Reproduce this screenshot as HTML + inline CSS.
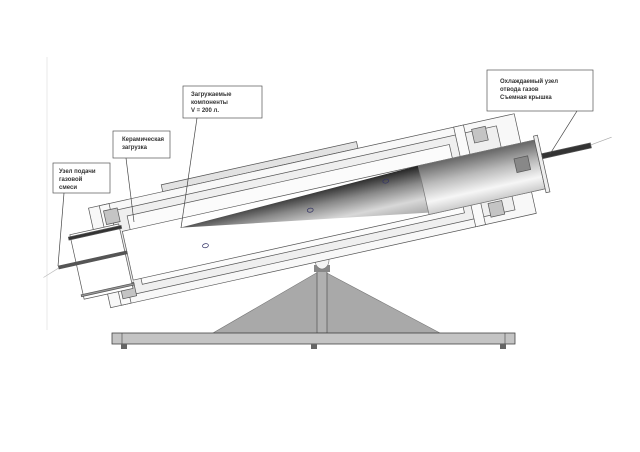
<!DOCTYPE html>
<html><head><meta charset="utf-8"><style>
html,body{margin:0;padding:0;background:#fff;}
svg{display:block}
text{font-family:"Liberation Sans",sans-serif;font-size:6px;font-weight:bold;fill:#333}
</style></head><body>
<svg width="640" height="452" viewBox="0 0 640 452" xmlns="http://www.w3.org/2000/svg">
<defs>
<linearGradient id="cone" x1="0" y1="0" x2="0" y2="1">
<stop offset="0" stop-color="#222"/><stop offset="0.35" stop-color="#888"/><stop offset="0.7" stop-color="#d8d8d8"/><stop offset="1" stop-color="#aaa"/>
</linearGradient>
<linearGradient id="cyl" x1="0" y1="0" x2="0" y2="1">
<stop offset="0" stop-color="#666"/><stop offset="0.4" stop-color="#bbb"/><stop offset="0.75" stop-color="#f6f6f6"/><stop offset="1" stop-color="#ccc"/>
</linearGradient>
</defs>
<line x1="47" y1="57" x2="47" y2="330" stroke="#e4e4e4" stroke-width="0.8"/>
<polygon points="213,333 440,333 325,272 318,272" fill="#a9a9a9" stroke="#777" stroke-width="0.6"/>
<rect x="317" y="270" width="10" height="63" fill="#b0b0b0" stroke="#444" stroke-width="0.6"/>
<rect x="112" y="333" width="403" height="11" fill="#c4c4c4" stroke="#444" stroke-width="0.8"/>
<line x1="122" y1="333" x2="122" y2="344" stroke="#444" stroke-width="0.6"/>
<line x1="505" y1="333" x2="505" y2="344" stroke="#444" stroke-width="0.6"/>
<rect x="121" y="344" width="6" height="5" fill="#666"/>
<rect x="311" y="344" width="6" height="5" fill="#666"/>
<rect x="500" y="344" width="6" height="5" fill="#666"/>
<rect x="314" y="265" width="16" height="7" fill="#888"/>
<ellipse cx="322" cy="260" rx="7" ry="9" fill="#f4f4f4" stroke="#777" stroke-width="0.6"/>
<g transform="rotate(-12.5 320 208)" stroke="#555" stroke-width="0.7">
<g transform="translate(320 208)">
<rect x="-150" y="-57" width="200" height="7" fill="#e2e2e2"/>
<rect x="-226" y="-50" width="436" height="102" fill="#f8f8f8"/>
<rect x="-205" y="-42" width="395" height="86" fill="#efefef"/>
<rect x="-190" y="-34" width="330" height="70" fill="#fbfbfb"/>
<rect x="-215" y="-50" width="10" height="102" fill="#fafafa"/>
<rect x="148" y="-50" width="10" height="102" fill="#fafafa"/>
<rect x="-212" y="-44" width="14" height="14" fill="#c4c4c4"/>
<rect x="-212" y="32" width="14" height="14" fill="#c4c4c4"/>
<rect x="165" y="-44" width="14" height="14" fill="#c4c4c4"/>
<rect x="165" y="32" width="14" height="14" fill="#c4c4c4"/>
<rect x="-198" y="-20" width="422" height="50" fill="#fff"/>
<polygon points="-141,-11 105,-20 105,28" fill="url(#cone)" stroke="none"/>
<rect x="105" y="-20" width="119" height="50" fill="url(#cyl)" stroke="#777"/>
<rect x="200" y="-6" width="14" height="14" fill="#888"/>
<rect x="224" y="-24" width="4" height="58" fill="#eee"/>
<rect x="228" y="-5" width="50" height="5" fill="#333"/>
<line x1="278" y1="-3" x2="300" y2="-6" stroke="#aaa"/>
<rect x="-250" y="-28" width="50" height="66" fill="#fff"/>
<rect x="-252" y="-26" width="54" height="3" fill="#333"/>
<rect x="-268" y="0" width="70" height="3" fill="#555"/>
<rect x="-252" y="33" width="54" height="2" fill="#999"/>
<line x1="-268" y1="2" x2="-285" y2="8" stroke="#bbb"/>
<ellipse cx="-10" cy="0" rx="3" ry="2" fill="none" stroke="#336"/>
<ellipse cx="70" cy="-12" rx="3" ry="2" fill="none" stroke="#336"/>
<ellipse cx="-120" cy="12" rx="3" ry="2" fill="none" stroke="#336"/>
</g></g>
<g fill="#fff" stroke="#555" stroke-width="0.7">
<rect x="53" y="163" width="57" height="30"/>
<rect x="113" y="131" width="57" height="27"/>
<rect x="183" y="86" width="79" height="32"/>
<rect x="487" y="70" width="106" height="41"/>
</g>
<g stroke="#444" stroke-width="0.7">
<line x1="64" y1="193" x2="58" y2="266"/>
<line x1="126" y1="158" x2="134" y2="222"/>
<line x1="197" y1="118" x2="181" y2="228"/>
<line x1="577" y1="111" x2="550" y2="154"/>
</g>
<text x="59" y="173">Узел подачи</text>
<text x="59" y="181">газовой</text>
<text x="59" y="189">смеси</text>
<text x="122" y="141">Керамическая</text>
<text x="122" y="149">загрузка</text>
<text x="191" y="96">Загружаемые</text>
<text x="191" y="104">компоненты</text>
<text x="191" y="112">V = 200 л.</text>
<text x="500" y="83">Охлаждаемый узел</text>
<text x="500" y="91">отвода газов</text>
<text x="500" y="99">Съемная крышка</text>
</svg>
</body></html>
